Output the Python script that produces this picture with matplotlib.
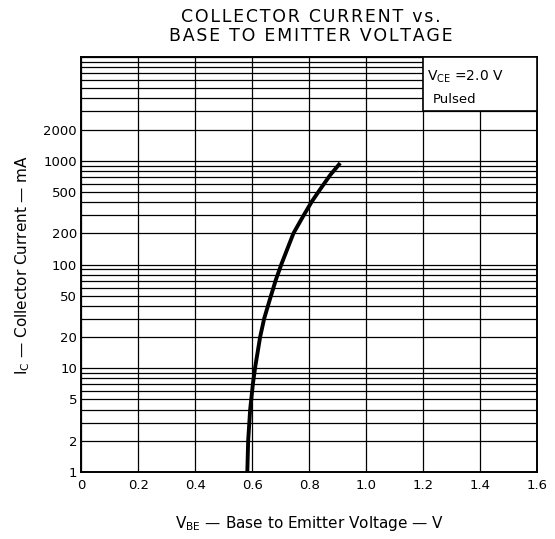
import matplotlib
matplotlib.use("Agg")
import matplotlib.pyplot as plt
from matplotlib.patches import Rectangle

# ---------- data ----------
vbe = [0.583, 0.586, 0.593, 0.603, 0.611, 0.628, 0.642, 0.661, 0.683, 0.704,
       0.745, 0.778, 0.809, 0.841, 0.874, 0.909]
ic = [1, 2, 4, 7.2, 10.4, 20, 30, 45, 71, 103, 200, 289, 403, 542, 729, 950]

x_ticks = [0, 0.2, 0.4, 0.6, 0.8, 1.0, 1.2, 1.4, 1.6]
x_labels = ["0", "0.2", "0.4", "0.6", "0.8", "1.0", "1.2", "1.4", "1.6"]
y_ticks = [1, 2, 5, 10, 20, 50, 100, 200, 500, 1000, 2000]
y_labels = ["1", "2", "5", "10", "20", "50", "100", "200", "500", "1000", "2000"]

title_lines = ["COLLECTOR CURRENT vs.", "BASE TO EMITTER VOLTAGE"]

plt.rcParams['font.family'] = ['DejaVu Sans']
plt.rcParams['mathtext.default'] = 'regular'


def spaced(s):
    # wide letter spacing like the printed title
    return "\u200a".join(s)


fig = plt.figure(figsize=(5.55, 5.39), dpi=100)
ax = fig.add_axes([0.1463, 0.1243, 0.8214, 0.7699])

ax.set_yscale('log')
ax.set_xlim(0, 1.6)
ax.set_ylim(1, 10000)

# grid: every 1..9 per decade, vertical every 0.2
minor = [m * 10 ** d for d in range(4) for m in range(1, 10)] + [10000]
ax.set_yticks(minor, minor=True)
ax.set_yticklabels([], minor=True)
ax.set_yticks(y_ticks)
ax.set_yticklabels(y_labels, fontsize=9.5)
ax.set_xticks(x_ticks)
ax.set_xticklabels(x_labels, fontsize=9.5)
ax.tick_params(which='both', length=0, pad=3)
ax.tick_params(axis='x', pad=5)
ax.grid(True, which='both', axis='y', color='black', lw=0.9)
ax.grid(True, which='major', axis='x', color='black', lw=0.9)
for s in ax.spines.values():
    s.set_linewidth(1.4)

# condition box in the upper right
ax.add_patch(Rectangle((1.2, 3000), 0.4, 7000, facecolor='white',
                       edgecolor='black', lw=1.2, zorder=3))
ax.text(1.215, 6400, r'$V_{CE}$ =2.0 V', fontsize=10, zorder=4, va='center')
ax.text(1.235, 3900, 'Pulsed', fontsize=9.5, zorder=4, va='center')

ax.plot(vbe, ic, color='black', lw=2.8, solid_capstyle='butt',
        solid_joinstyle='round', zorder=5)

ax.set_xlabel(r'$V_{BE}$ — Base to Emitter Voltage — V', fontsize=11, labelpad=16)
ax.set_ylabel(r'$I_C$ — Collector Current — mA', fontsize=11, labelpad=8)

fig.text(0.56, 0.968, spaced(title_lines[0]), ha='center', va='center',
         fontsize=12.5)
fig.text(0.56, 0.933, spaced(title_lines[1]), ha='center', va='center',
         fontsize=12.5)

fig.savefig('out.png', dpi=100)
